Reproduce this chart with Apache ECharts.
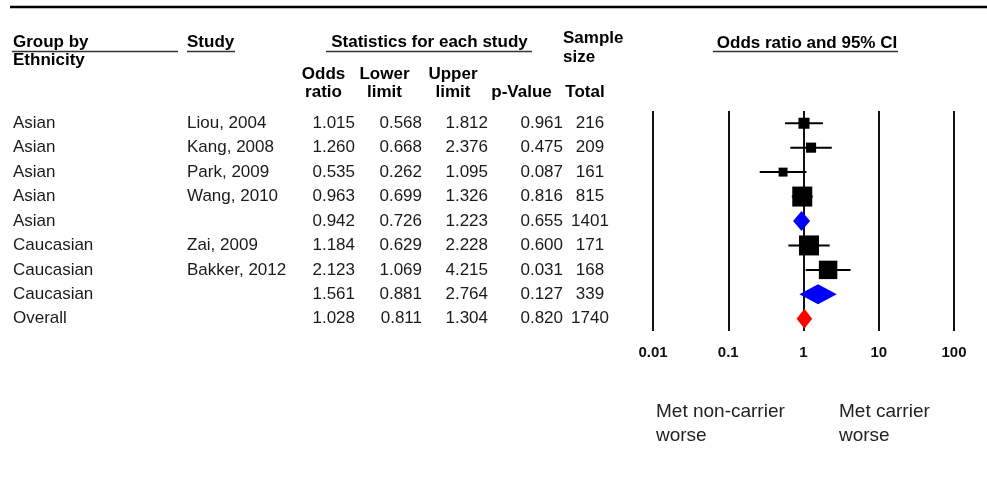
<!DOCTYPE html>
<html>
<head>
<meta charset="utf-8">
<script src="https://cdn.jsdelivr.net/npm/echarts@6/dist/echarts.min.js"></script>
<style>
html,body{margin:0;padding:0;background:#fff;}
#chart{width:987px;height:498px;}
</style>
</head>
<body>
<div id="chart"></div>
<script>
// ---- data ----
const groups = ['Asian','Asian','Asian','Asian','Asian','Caucasian','Caucasian','Caucasian','Overall'];
const studies = ['Liou, 2004','Kang, 2008','Park, 2009','Wang, 2010','','Zai, 2009','Bakker, 2012','',''];
const oddsRatio = [1.015,1.260,0.535,0.963,0.942,1.184,2.123,1.561,1.028];
const lowerLimit = [0.568,0.668,0.262,0.699,0.726,0.629,1.069,0.881,0.811];
const upperLimit = [1.812,2.376,1.095,1.326,1.223,2.228,4.215,2.764,1.304];
const pValue = ['0.961','0.475','0.087','0.816','0.655','0.600','0.031','0.127','0.820'];
const totals = [216,209,161,815,1401,171,168,339,1740];
const rowType = ['study','study','study','study','subgroup','study','study','subgroup','overall'];
const xTicks = [0.01,0.1,1,10,100];

// ---- layout / style ----
const FONT = '"Liberation Sans", Arial, Helvetica, sans-serif';
const GRID_LEFT = 653;
const MAX_SQ = 20;
const DIAMOND_H = 20;
const BODY_SIZE = 17;
const HEAD_SIZE = 17;

// inverse-variance weights from the CI, scaled within each group
const weights = lowerLimit.map((lo, i) => {
  const se = (Math.log(upperLimit[i]) - Math.log(lo)) / 3.92;
  return 1 / (se * se);
});
const groupMax = {};
groups.forEach((g, i) => {
  if (rowType[i] === 'study') groupMax[g] = Math.max(groupMax[g] || 0, weights[i]);
});
const kindCode = {study: 0, subgroup: 1, overall: 2};
const seriesData = oddsRatio.map((or, i) => {
  const w = rowType[i] === 'study' ? Math.sqrt(weights[i] / groupMax[groups[i]]) : 0;
  return [i, or, lowerLimit[i], upperLimit[i], kindCode[rowType[i]], w];
});

function colAxis(data, x, align) {
  return {
    type: 'category', gridIndex: 0, position: 'left', offset: GRID_LEFT - x,
    inverse: true, data: data,
    axisLine: {show: false}, axisTick: {show: false}, splitLine: {show: false},
    axisLabel: {interval: 0, margin: 0, align: align, color: '#1a1a1a', fontSize: BODY_SIZE, fontFamily: FONT, hideOverlap: false}
  };
}

const fmt3 = a => a.map(v => v.toFixed(3));

function txt(text, x, y, opts) {
  opts = opts || {};
  return {
    type: 'text', x: x, y: y, silent: true,
    style: {
      text: text, fill: opts.fill || '#000',
      font: (opts.weight || 'bold') + ' ' + (opts.size || HEAD_SIZE) + 'px ' + FONT,
      align: opts.align || 'left', verticalAlign: 'middle'
    }
  };
}
function hline(x1, x2, y, w, c) {
  return {type: 'line', silent: true, shape: {x1: x1, y1: y, x2: x2, y2: y}, style: {stroke: c || '#333', lineWidth: w || 1.5}};
}

const graphics = [
  hline(10, 987, 7, 2.5, '#000'),
  txt('Group by', 13, 42), txt('Ethnicity', 13, 60), hline(12, 178, 51.5),
  txt('Study', 187, 42), hline(187, 235, 51.5),
  txt('Statistics for each study', 429.5, 42, {align: 'center'}), hline(326, 532, 51.5),
  txt('Sample', 563, 38), txt('size', 563, 57),
  txt('Odds', 323.5, 74, {align: 'center'}), txt('ratio', 323.5, 92, {align: 'center'}),
  txt('Lower', 384.5, 74, {align: 'center'}), txt('limit', 384.5, 92, {align: 'center'}),
  txt('Upper', 453, 74, {align: 'center'}), txt('limit', 453, 92, {align: 'center'}),
  txt('p-Value', 521.5, 92, {align: 'center'}),
  txt('Total', 585, 92, {align: 'center'}),
  txt('Odds ratio and 95% CI', 807, 43, {align: 'center'}), hline(713, 898, 51.5),
  txt('Met non-carrier', 656, 412, {weight: 'normal', size: 19, fill: '#222'}),
  txt('worse', 656, 436, {weight: 'normal', size: 19, fill: '#222'}),
  txt('Met carrier', 839, 412, {weight: 'normal', size: 19, fill: '#222'}),
  txt('worse', 839, 436, {weight: 'normal', size: 19, fill: '#222'})
];

const chart = echarts.init(document.getElementById('chart'), null, {renderer: 'canvas'});
chart.setOption({
  animation: false,
  backgroundColor: '#fff',
  grid: {left: GRID_LEFT, right: 33, top: 111, bottom: 167, containLabel: false},
  xAxis: {
    type: 'log', logBase: 10, min: xTicks[0], max: xTicks[xTicks.length - 1],
    axisLine: {show: false}, axisTick: {show: false},
    splitLine: {show: true, lineStyle: {color: '#111', width: 2}},
    axisLabel: {
      margin: 14, color: '#111', fontWeight: 'bold', fontSize: 15, fontFamily: FONT,
      formatter: v => {
        const t = xTicks.find(t => Math.abs(Math.log10(t) - Math.log10(v)) < 1e-6);
        return t != null ? String(t) : '';
      }
    }
  },
  yAxis: [
    colAxis(groups, 13, 'left'),
    colAxis(studies, 187, 'left'),
    colAxis(fmt3(oddsRatio), 355, 'right'),
    colAxis(fmt3(lowerLimit), 422, 'right'),
    colAxis(fmt3(upperLimit), 488, 'right'),
    colAxis(pValue, 563, 'right'),
    colAxis(totals.map(String), 590, 'center')
  ],
  graphic: graphics,
  series: [{
    type: 'custom',
    xAxisIndex: 0, yAxisIndex: 0,
    encode: {x: [1, 2, 3], y: 0},
    data: seriesData,
    renderItem: function (params, api) {
      const row = api.value(0);
      const c = api.coord([api.value(1), row]);
      const l = api.coord([api.value(2), row]);
      const h = api.coord([api.value(3), row]);
      const kind = api.value(4);
      if (kind === 0) {
        const s = MAX_SQ * api.value(5);
        return {
          type: 'group', children: [
            {type: 'line', shape: {x1: l[0], y1: c[1], x2: h[0], y2: c[1]}, style: {stroke: '#000', lineWidth: 2}},
            {type: 'rect', shape: {x: c[0] - s / 2, y: c[1] - s / 2, width: s, height: s}, style: {fill: '#000'}}
          ]
        };
      }
      const hh = DIAMOND_H / 2;
      return {
        type: 'polygon',
        shape: {points: [[l[0], c[1]], [c[0], c[1] - hh], [h[0], c[1]], [c[0], c[1] + hh]]},
        style: {fill: kind === 1 ? '#0000ff' : '#ff0000'}
      };
    }
  }]
});
</script>
</body>
</html>
